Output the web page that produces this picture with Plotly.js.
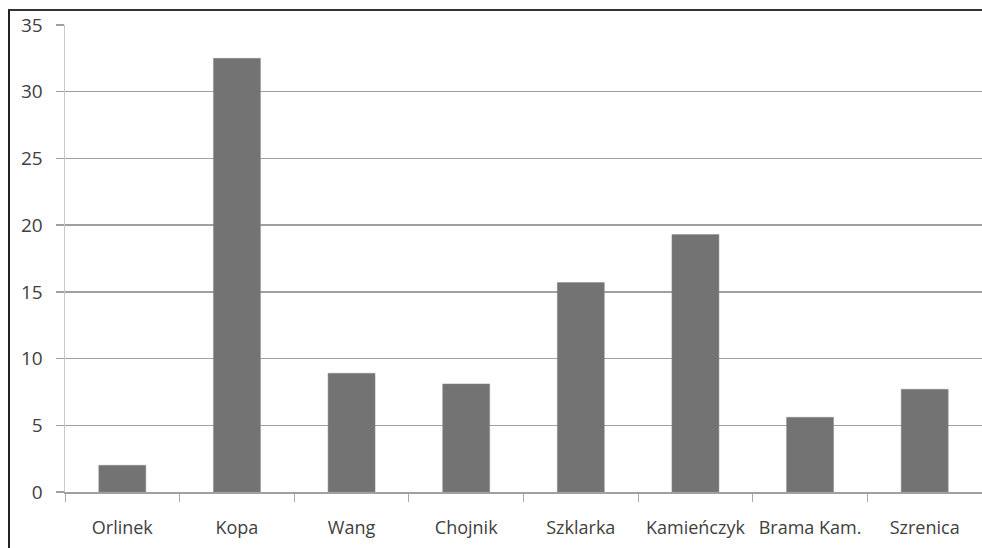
<!DOCTYPE html>
<html>
<head>
<meta charset="utf-8">
<script src="https://cdn.plot.ly/plotly-3.0.1.min.js"></script>
<style>
html,body{margin:0;padding:0;background:#fff;}
#wrap{position:relative;width:982px;height:548px;overflow:hidden;}
#chart{position:absolute;left:0;top:0;width:982px;height:548px;}
#frame{position:absolute;left:8px;top:9px;width:980px;height:545px;border-left:2px solid #222;border-top:2px solid #333;pointer-events:none;}
</style>
</head>
<body>
<div id="wrap"><div id="chart"></div><div id="frame"></div></div>
<script>
const categories = ["Orlinek", "Kopa", "Wang", "Chojnik", "Szklarka", "Kamieńczyk", "Brama Kam.", "Szrenica"];
const values = [2.0, 32.5, 8.9, 8.1, 15.7, 19.3, 5.6, 7.7];
const yTicks = [0, 5, 10, 15, 20, 25, 30, 35];

const font = {family: "'Open Sans', 'Liberation Sans', sans-serif", size: 18, color: "#404040"};

Plotly.newPlot("chart", [{
  type: "bar",
  x: categories,
  y: values,
  marker: {color: "#737373", line: {color: "#8a8a8a", width: 0.5}},
  hoverinfo: "skip"
}], {
  width: 982, height: 548,
  margin: {l: 65, r: 0, t: 25, b: 56},
  paper_bgcolor: "#ffffff",
  plot_bgcolor: "#ffffff",
  bargap: 0.59,
  showlegend: false,
  font: font,
  xaxis: {
    type: "category",
    tickson: "boundaries",
    tickangle: 0,
    ticks: "outside",
    ticklen: 8,
    tickwidth: 1,
    tickcolor: "#a8a8a8",
    showgrid: false,
    showline: true,
    linecolor: "#a0a0a0",
    linewidth: 1.5,
    tickfont: font,
    ticklabelstandoff: 19,
    fixedrange: true
  },
  yaxis: {
    range: [0, 35],
    tickvals: yTicks,
    ticktext: yTicks.map(String),
    ticks: "outside",
    ticklen: 8,
    tickwidth: 1.5,
    tickcolor: "#a0a0a0",
    showgrid: true,
    gridcolor: "#a0a0a0",
    gridwidth: 1.5,
    zeroline: false,
    showline: true,
    linecolor: "#c8c8c8",
    linewidth: 1.5,
    tickfont: Object.assign({}, font, {size: 19}),
    ticklabelstandoff: 9,
    fixedrange: true
  }
}, {displayModeBar: false, staticPlot: true});
</script>
</body>
</html>
